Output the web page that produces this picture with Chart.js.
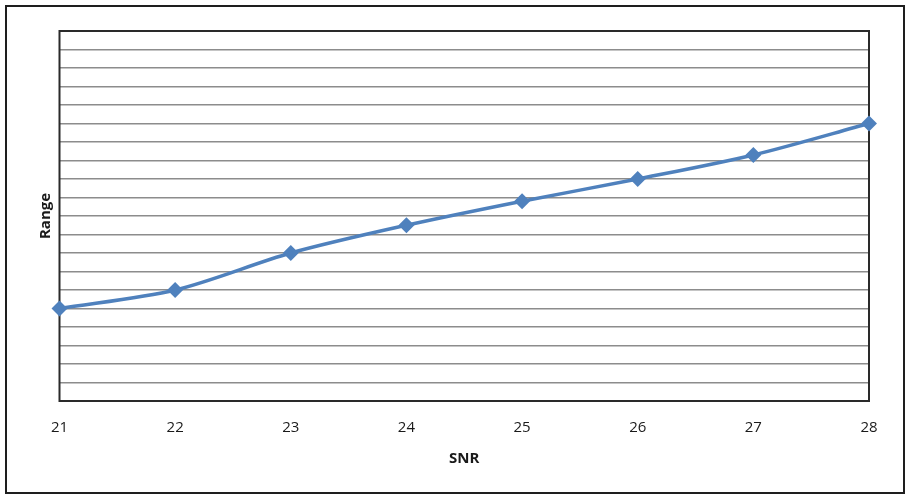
<!DOCTYPE html>
<html>
<head>
<meta charset="utf-8">
<script src="https://cdn.jsdelivr.net/npm/chart.js@4/dist/chart.umd.min.js"></script>
<style>
  body { margin: 0; background: #fff; }
  #wrap { position: relative; width: 908px; height: 495px; }
  #frame { position: absolute; left: 5px; top: 5px; width: 896px; height: 485px;
           border: 2px solid #1e1e1e; pointer-events: none; }
</style>
</head>
<body>
<div id="wrap">
  <canvas id="chart" width="908" height="495"></canvas>
  <div id="frame"></div>
</div>
<script>
const snr = ['21', '22', '23', '24', '25', '26', '27', '28'];
const range = [5, 6, 8, 9.5, 10.8, 12, 13.3, 15];
const yMin = 0;
const yMax = 20;

// border round the plot area
const plotBorder = {
    id: 'plotBorder',
    beforeDatasetsDraw(chart) {
        const a = chart.chartArea;
        const ctx = chart.ctx;
        ctx.save();
        ctx.strokeStyle = '#2a2a2a';
        ctx.lineWidth = 2;
        ctx.strokeRect(a.left, a.top, a.right - a.left, a.bottom - a.top);
        ctx.restore();
    }
};

const ctx = document.getElementById('chart').getContext('2d');
new Chart(ctx, {
    type: 'line',
    data: {
        labels: snr,
        datasets: [{
            data: range,
            borderColor: '#4F81BD',
            backgroundColor: '#4F81BD',
            borderWidth: 3.5,
            tension: 0.3,
            pointStyle: 'rectRot',
            pointRadius: 5.5,
            pointHoverRadius: 5.5,
            clip: false
        }]
    },
    options: {
        responsive: false,
        animation: false,
        layout: { padding: { top: 31, right: 39, left: 0, bottom: 0 } },
        plugins: {
            legend: { display: false },
            tooltip: { enabled: false }
        },
        scales: {
            x: {
                type: 'category',
                offset: false,
                grid: { display: false, drawTicks: false },
                border: { display: false },
                ticks: {
                    padding: 18,
                    color: '#1a1a1a',
                    font: { family: 'Open Sans', size: 15 }
                },
                title: {
                    display: true,
                    text: 'SNR',
                    color: '#1a1a1a',
                    padding: { top: 0, bottom: 27 },
                    font: { family: 'Open Sans', size: 15, weight: 'bold' }
                },
                afterFit(scale) { scale.height = 94; }
            },
            y: {
                min: yMin,
                max: yMax,
                ticks: { display: false, stepSize: 1 },
                grid: { color: '#8c8c8c', lineWidth: 1.5, drawTicks: false },
                border: { display: false },
                title: {
                    display: true,
                    text: 'Range',
                    color: '#1a1a1a',
                    padding: { top: 37, bottom: 0 },
                    font: { family: 'Open Sans', size: 15, weight: 'bold' }
                },
                afterFit(scale) { scale.width = 59.5; }
            }
        }
    },
    plugins: [plotBorder]
});
</script>
</body>
</html>
